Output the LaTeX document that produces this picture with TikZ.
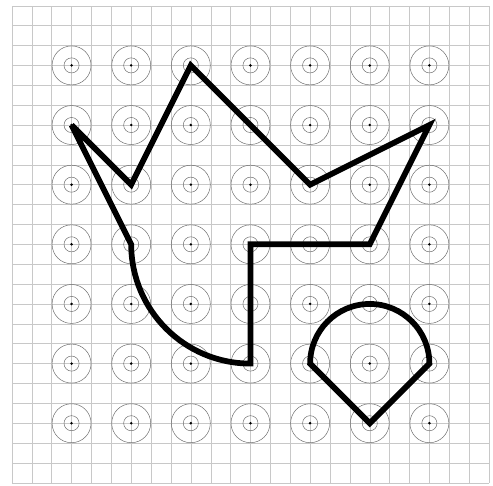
\documentclass[tikz,border=0pt]{standalone}
\begin{document}
\begin{tikzpicture}[
  gridline/.style={line width=0.6pt, draw={rgb,255:red,200;green,200;blue,200}},
  ring/.style={line width=0.7pt, draw={rgb,255:red,110;green,110;blue,110}},
  boldpath/.style={line width=8.2pt, draw=black, line join=miter}
]
\useasboundingbox (-0.60,-0.15) rectangle (24.20,24.29);
\fill[white] (-0.60,-0.15) rectangle (24.20,24.29);
% grid
\foreach \i in {0,...,24} {
  \draw[gridline] (\i,0) -- (\i,24);
  \draw[gridline] (0,\i) -- (24,\i);
}
% targets
\foreach \a in {1,...,7} {
  \foreach \b in {1,...,7} {
    \coordinate (c-\a-\b) at ({3*\a},{24-3*\b});
    \draw[ring] (c-\a-\b) circle (0.98);
    \draw[ring] (c-\a-\b) circle (0.38);
    \fill[black] (c-\a-\b) circle (0.07);
  }
}
% crown / hook shape
\draw[boldpath] (c-1-2) -- (c-2-3) -- (c-3-1) -- (c-5-3) -- (c-7-2) -- (c-6-4)
  -- (c-4-4) -- (c-4-6) arc[start angle=270,end angle=180,radius=6] -- (c-1-2);
% teardrop
\draw[boldpath] (c-5-6) -- (c-6-7) -- (c-7-6) arc[start angle=0,end angle=180,radius=3] -- cycle;
\end{tikzpicture}
\end{document}
